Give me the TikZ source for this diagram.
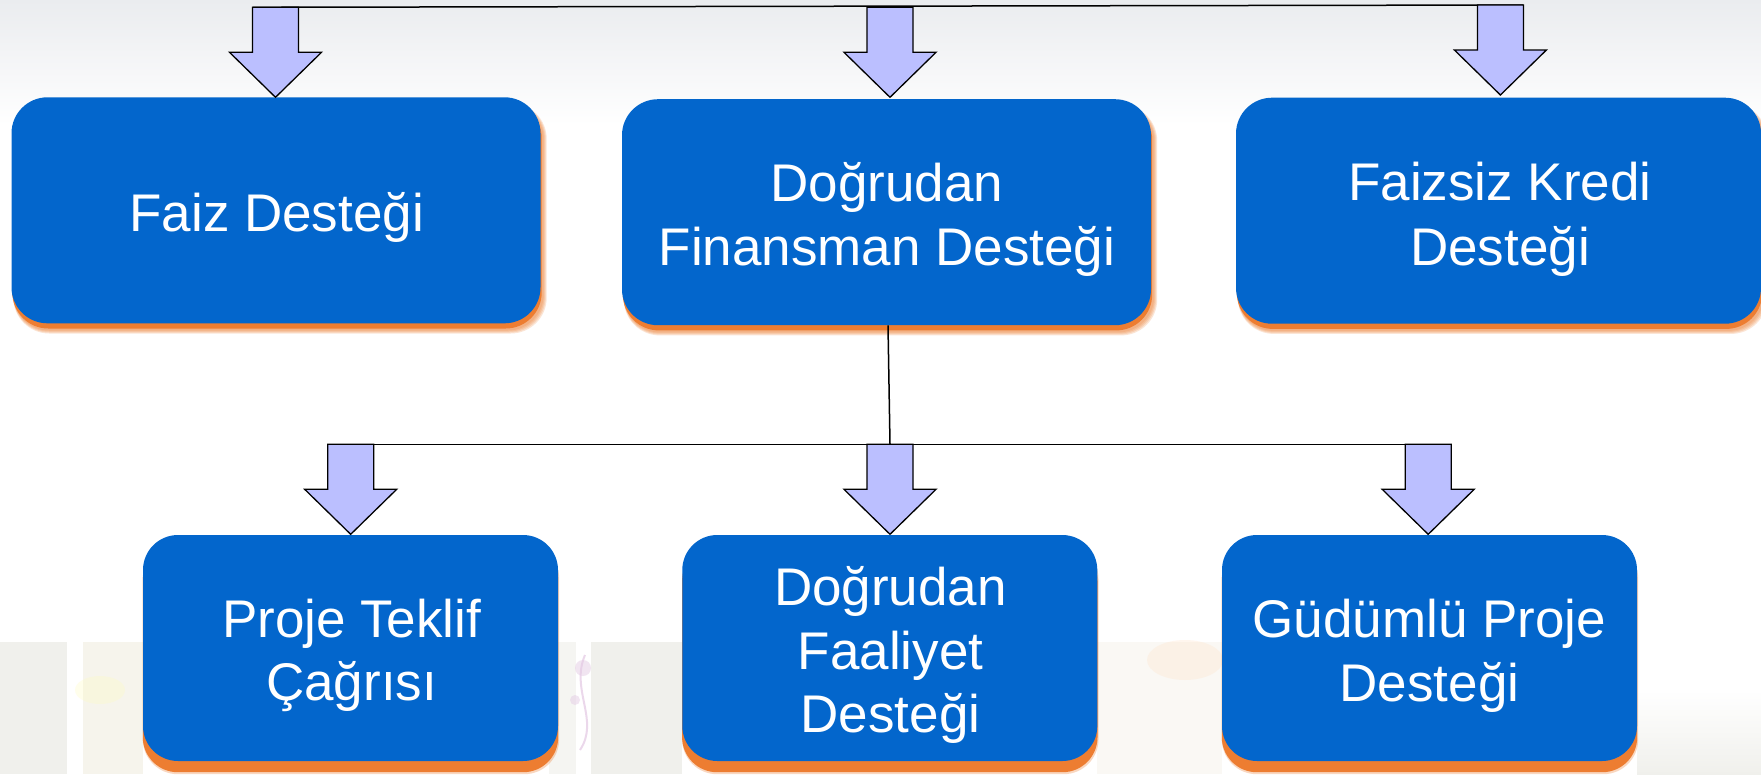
\documentclass[tikz,border=0pt]{standalone}
\usepackage{fontspec}
\setmainfont{Liberation Sans}
\usetikzlibrary{calc}
\definecolor{boxblue}{RGB}{3,102,204}
\definecolor{arrfill}{RGB}{187,191,255}
\definecolor{shadoworange}{RGB}{237,125,49}
\definecolor{bgtop}{RGB}{234,236,239}
\definecolor{panelgray}{RGB}{240,240,236}
\definecolor{panelbeige}{RGB}{246,244,236}
\pgfdeclarelayer{bg}
\pgfsetlayers{bg,main}
\newcommand\blockarrow[1]{%
  \draw[arrowsty] (#1) -- ++(-46,-45) -- ++(23,0) -- ++(0,-45) -- ++(46,0) -- ++(0,45) -- ++(23,0) -- cycle;}
\begin{document}
\begin{tikzpicture}[x=1pt,y=-1pt,
  topbox/.style={fill=boxblue, draw=none, rounded corners=36pt, minimum width=529pt, minimum height=226pt, inner sep=0pt},
  botbox/.style={fill=boxblue, draw=none, rounded corners=35pt, minimum width=415pt, minimum height=226pt, inner sep=0pt},
  arrowsty/.style={fill=arrfill, draw=black, line width=1.3pt, line join=miter},
  conn/.style={draw=black, line width=1.5pt},
  lbl/.style={text=white, font=\fontsize{53pt}{63pt}\selectfont, anchor=base, inner sep=0pt}]
\useasboundingbox (0,0) rectangle (1761,774);

% boxes
\node[topbox] (b1) at (276,210.3) {};
\node[topbox] (b2) at (886.5,212.2) {};
\node[topbox, minimum width=525pt] (b3) at (1498.5,210.7) {};
\node[botbox] (b4) at (350.5,648) {};
\node[botbox] (b5) at (889.8,648) {};
\node[botbox] (b6) at (1429.5,648) {};

\begin{pgfonlayer}{bg}
  \fill[white] (0,0) rectangle (1761,774);
  \shade[top color=bgtop, bottom color=white] (0,0) rectangle (1761,125);
  % faint photo panels at the bottom
  \fill[panelgray] (0,642) rectangle (67,774);
  \fill[panelbeige] (83,642) rectangle (143,774);
  \fill[panelgray!70] (549,642) rectangle (576,774);
  \fill[panelgray] (591,642) rectangle (682,774);
  \fill[panelbeige!60] (1097,642) rectangle (1222,774);
  \shade[top color=white, bottom color=panelgray] (1637,690) rectangle (1761,774);
  \draw[violet!30, line width=2pt, opacity=0.5] (585,655) .. controls (570,690) and (600,720) .. (580,750);
  \fill[violet!20, opacity=0.5] (583,668) circle (8) (575,700) circle (5);
  \fill[orange!25, opacity=0.25] (1185,660) ellipse (38 and 20);
  \fill[yellow!25, opacity=0.3] (100,690) ellipse (25 and 14);
  % blurred shadows of the upper boxes
  \foreach \b in {b1,b2,b3}{
    \foreach \e in {4,3,2,1}{
      \fill[shadoworange, opacity=0.2, rounded corners=36pt]
        ($(\b.south west)+(2,6+\e)$) rectangle ($(\b.north east)+(2+\e,6)$);
    }
    \fill[shadoworange, rounded corners=36pt]
      ($(\b.south west)+(1,5)$) rectangle ($(\b.north east)+(1,5)$);
  }
  % shadows of the lower boxes
  \foreach \b in {b4,b5,b6}{
    \fill[shadoworange, opacity=0.3, rounded corners=35pt]
      ($(\b.south west)+(0,13)$) rectangle ($(\b.north east)+(1,9)$);
    \fill[shadoworange, rounded corners=35pt]
      ($(\b.south west)+(0,11)$) rectangle ($(\b.north east)+(0,11)$);
  }
\end{pgfonlayer}

% arrow tips (free ends on the box tops)
\coordinate (t1) at (275.5,97.3);
\coordinate (t2) at (890,97.3);
\coordinate (t3) at (1500.4,95);
\coordinate (t4) at (350.7,534.3);
\coordinate (t5) at (890,534.3);
\coordinate (t6) at (1428.2,534.3);

% connectors
\draw[conn] ($(t1)+(-23,-90)$) -- ($(t3)+(23,-90)$);
\draw[conn] ($(b2.south)+(1.5,0)$) -- ($(t5)+(0,-90)$);
\draw[conn] ($(t4)+(-23,-90)$) -- ($(t6)+(23,-90)$);

\blockarrow{t1}
\blockarrow{t2}
\blockarrow{t3}
\blockarrow{t4}
\blockarrow{t5}
\blockarrow{t6}

% labels
\node[lbl] (l1) at (276.7,231.7) {Faiz Desteği};
\node[lbl] (l2a) at (887,201.7) {Doğrudan};
\node[lbl] (l2b) at (887,265) {Finansman Desteği};
\node[lbl] (l3a) at (1500,200) {Faizsiz Kredi};
\node[lbl] (l3b) at (1500,265) {Desteği};
\node[lbl] (l4a) at (351.6,637.3) {Proje Teklif};
\node[lbl] (l4b) at (351.6,700) {Çağrısı};
\node[lbl] (l5a) at (890.5,605) {Doğrudan};
\node[lbl] (l5b) at (890.5,669) {Faaliyet};
\node[lbl] (l5c) at (890.5,732.7) {Desteği};
\node[lbl] (l6a) at (1429.5,637) {Güdümlü Proje};
\node[lbl] (l6b) at (1429.5,701.7) {Desteği};
\end{tikzpicture}
\end{document}
